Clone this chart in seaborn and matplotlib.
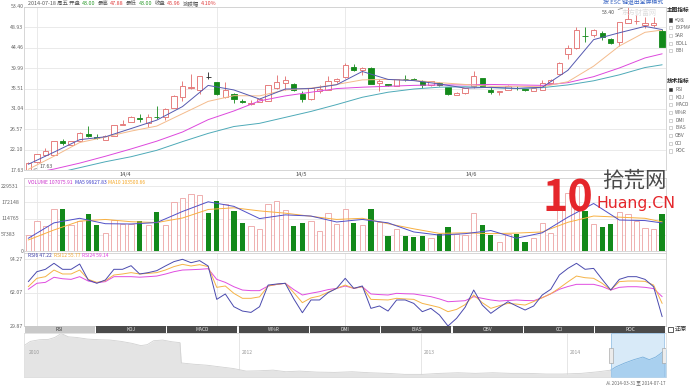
import numpy as np
import pandas as pd
import matplotlib
matplotlib.use("Agg")
import matplotlib.pyplot as plt
import seaborn as sns
from matplotlib.patches import Rectangle
from matplotlib.transforms import blended_transform_factory

# daily candles, 2014-03-31 .. 2014-07-18
open_ = [17.63, 19.54, 20.87, 21.05, 23.97, 23.23, 23.97, 25.51, 24.85, 24.33,
         25.21, 27.58, 28.23, 29.05, 28.03, 29.34, 29.34, 31.32, 33.75, 35.53,
         35.09, 37.96, 36.93, 33.60, 34.27, 32.79, 32.06, 32.65, 32.87, 35.60,
         36.71, 36.56, 34.27, 33.16, 34.86, 35.24, 37.07, 38.03, 40.32, 39.58,
         40.10, 36.71, 36.48, 36.12, 37.65, 37.67, 37.07, 36.19, 36.71, 35.83,
         34.12, 34.49, 35.97, 37.76, 35.18, 34.85, 35.18, 35.66, 35.40, 35.03,
         35.18, 36.73, 38.72, 43.00, 44.30, 47.10, 47.20, 47.57, 46.24, 45.73,
         49.93, 50.25, 49.42, 49.42, 48.16]
high = [19.50, 21.30, 22.49, 24.10, 24.57, 24.10, 25.90, 27.28, 25.59, 25.30,
        27.60, 28.52, 29.40, 30.01, 30.01, 31.76, 31.32, 34.00, 37.22, 38.70,
        38.33, 39.09, 37.00, 36.85, 34.49, 33.24, 33.01, 33.53, 36.30, 38.55,
        38.18, 36.70, 34.86, 35.70, 36.19, 38.18, 37.81, 41.06, 40.91, 40.15,
        40.20, 37.67, 36.60, 37.70, 38.55, 37.80, 37.30, 37.20, 36.90, 35.90,
        34.80, 35.70, 39.36, 37.90, 35.77, 34.95, 36.20, 36.14, 35.50, 35.60,
        37.47, 37.50, 41.20, 45.00, 48.90, 49.05, 48.60, 48.00, 46.50, 50.10,
        53.40, 51.48, 51.04, 51.11, 48.50]
low = [17.63, 19.30, 20.65, 21.00, 23.16, 23.10, 23.80, 24.92, 24.48, 24.20,
       25.10, 27.43, 28.10, 28.16, 27.13, 28.90, 28.59, 31.20, 32.79, 35.38,
       34.27, 37.67, 34.20, 33.38, 32.42, 32.27, 31.91, 32.50, 32.80, 35.46,
       35.09, 35.00, 32.50, 33.10, 34.64, 35.09, 36.71, 37.81, 39.36, 38.55,
       36.40, 34.86, 36.10, 36.00, 37.07, 37.30, 35.60, 36.10, 36.00, 34.20,
       34.00, 34.40, 35.60, 35.80, 34.29, 34.07, 35.10, 35.18, 35.00, 34.95,
       35.10, 36.60, 38.60, 42.00, 44.10, 45.73, 46.70, 46.20, 45.20, 44.77,
       49.90, 49.56, 48.83, 49.05, 44.62]
close = [19.32, 21.16, 21.90, 23.97, 23.60, 23.97, 25.81, 25.07, 24.70, 25.21,
         27.50, 27.80, 29.34, 28.90, 29.27, 29.20, 30.95, 33.90, 35.97, 35.75,
         38.18, 37.96, 34.27, 35.24, 33.31, 32.65, 32.27, 33.24, 36.19, 36.93,
         37.30, 35.09, 33.16, 35.60, 35.38, 37.07, 37.67, 40.61, 39.51, 40.10,
         36.48, 37.07, 36.19, 37.59, 37.59, 37.44, 36.19, 37.07, 36.19, 34.34,
         34.64, 35.60, 38.18, 35.92, 34.66, 34.88, 36.14, 35.62, 35.11, 35.55,
         36.66, 37.40, 41.08, 44.40, 48.20, 47.00, 48.31, 46.69, 45.51, 50.01,
         50.67, 50.30, 49.93, 49.78, 44.62]
volume = [57400, 106600, 89000, 147500, 147500, 92500, 105000, 130000, 92500, 63000,
          110000, 95000, 95000, 108000, 92500, 139000, 92500, 172000, 186000, 201000,
          197000, 136000, 177000, 166000, 143000, 98000, 89000, 77000, 165000, 176000,
          145000, 90000, 98000, 106600, 71000, 133500, 96000, 147500, 98000, 91000,
          147500, 102000, 54000, 80000, 54000, 51500, 54000, 47000, 62000, 84000,
          61000, 57000, 133500, 94000, 57000, 33000, 60000, 60000, 33000, 48000,
          101000, 66000, 160000, 205000, 229531, 143000, 95000, 87000, 95000, 137000,
          131000, 108000, 81000, 77000, 130000]

# moving averages every third day
ma_days = list(range(0, 73, 3)) + [74]
ma5 = [18.95, 21.6, 24.33, 24.95, 26.76, 28.6, 31.56, 36.19, 35.2, 33.2, 35.4, 35.5, 36.34,
       39.24, 37.5, 37.24, 36.51, 35.6, 35.77, 35.55, 35.77, 39.5, 46.2, 47.7, 49.1, 48.4]
ma10 = [17.84, 20.7, 23.7, 24.9, 26.2, 27.3, 30.0, 32.7, 33.95, 33.9, 35.2, 35.6, 36.4,
        37.4, 37.5, 37.3, 36.8, 36.4, 36.0, 36.0, 35.9, 37.0, 40.4, 44.8, 47.8, 48.3]
ma20 = [16.8, 17.9, 19.2, 20.7, 22.3, 24.0, 26.0, 28.7, 30.6, 32.8, 33.9, 34.7, 35.5,
        35.8, 36.0, 36.2, 36.3, 36.3, 36.4, 36.3, 36.2, 36.8, 38.1, 40.0, 42.2, 43.1]
ma30 = [15.8, 16.9, 18.2, 19.5, 20.6, 22.0, 23.9, 25.7, 27.2, 27.9, 29.2, 30.5, 32.0,
        33.6, 34.7, 35.4, 35.8, 35.9, 35.7, 35.5, 35.7, 36.3, 37.2, 38.5, 40.1, 40.7]
vol_ma5 = [45700, 100000, 116000, 97000, 96000, 101000, 140000, 174000, 158000, 115000,
           128000, 124000, 103000, 112000, 100000, 68000, 57000, 62000, 73000, 46000,
           65000, 120000, 168000, 110000, 108000, 99600]
vol_ma10 = [39800, 75000, 106000, 112000, 104000, 101000, 117000, 147000, 153000, 142000,
            134000, 123000, 112000, 116000, 97000, 79000, 63000, 65000, 62000, 64000,
            68000, 102000, 124000, 120000, 116000, 103500]

rsi6 = [72.7, 82.3, 84.6, 90.4, 84.6, 84.6, 89.7, 74.3, 71.1, 74.3,
        84.6, 84.6, 88.1, 80.1, 81.4, 83.3, 87.8, 92.0, 94.27, 91.0,
        93.0, 87.8, 55.6, 60.8, 48.5, 44.3, 43.0, 48.5, 69.4, 70.4,
        71.1, 56.0, 42.7, 55.0, 55.0, 62.0, 66.2, 75.9, 66.2, 68.5,
        46.9, 49.2, 44.3, 55.0, 55.0, 51.7, 43.7, 46.9, 40.5, 29.87,
        37.3, 48.0, 64.6, 50.1, 42.1, 48.0, 53.3, 49.2, 45.3, 49.2,
        59.8, 65.3, 79.1, 85.5, 90.4, 84.6, 85.5, 74.9, 64.6, 74.9,
        77.5, 77.5, 74.9, 67.8, 38.9]
rsi12 = [67.8, 75.9, 77.5, 83.9, 80.1, 80.1, 83.9, 74.9, 72.0, 73.6,
         79.1, 80.1, 81.4, 80.1, 80.7, 81.4, 83.9, 87.2, 89.4, 87.8,
         89.1, 87.2, 67.2, 68.5, 61.4, 56.6, 56.6, 58.0, 68.5, 70.0,
         71.1, 62.0, 52.4, 57.0, 58.8, 62.5, 66.2, 69.4, 66.2, 67.8,
         55.6, 55.3, 55.0, 56.6, 56.0, 55.6, 51.7, 49.8, 47.8, 43.7,
         45.9, 50.5, 59.8, 52.4, 46.9, 49.5, 51.7, 51.0, 50.1, 53.5,
         57.2, 61.0, 66.5, 72.5, 78.1, 76.5, 75.9, 71.1, 64.6, 72.7,
         73.3, 73.3, 73.0, 69.4, 51.7]
rsi24 = [65.3, 71.1, 72.0, 76.9, 75.5, 74.9, 77.5, 73.3, 71.7, 72.7,
         77.5, 77.5, 77.5, 77.0, 77.5, 78.1, 80.0, 82.3, 83.9, 84.2,
         84.6, 85.2, 74.9, 72.0, 67.8, 64.6, 64.0, 64.0, 68.5, 70.0,
         71.1, 65.0, 59.8, 61.5, 63.0, 65.0, 66.2, 68.5, 66.2, 67.8,
         60.8, 60.2, 59.8, 61.4, 61.0, 60.8, 59.5, 58.2, 56.0, 53.3,
         53.8, 54.3, 58.2, 56.6, 55.0, 54.0, 54.5, 55.0, 54.5, 54.3,
         57.2, 61.0, 65.3, 68.0, 70.1, 70.1, 70.1, 68.0, 64.6, 67.2,
         67.8, 67.8, 67.2, 66.0, 58.2]

# long history shown in the navigator (percent of span, percent of height)
nav_pos = [0.0, 1.0, 2.4, 3.8, 4.8, 5.8, 6.9, 8.2, 9.9, 11.7, 13.4, 15.1, 16.8, 18.2,
           19.2, 20.2, 21.6, 23.0, 24.3, 24.5, 26.4, 28.5, 30.5, 32.6, 34.6, 36.7, 38.8,
           40.8, 42.9, 45.6, 48.4, 51.1, 53.8, 56.6, 59.3, 62.1, 64.8, 67.6, 70.3, 73.0,
           75.8, 78.5, 81.3, 84.0, 86.8, 89.5, 91.4, 92.2, 93.6, 95.0, 96.4, 97.4, 98.4,
           99.1, 100.0]
nav_level = [72.4, 82.1, 85.8, 86.6, 91.0, 100, 92.5, 91.0, 87.3, 85.8, 85.1, 82.1, 77.6,
             72.4, 74.6, 83.6, 85.1, 81.3, 79.1, 32.8, 29.9, 27.6, 23.9, 20.1, 14.2, 14.9,
             16.4, 12.7, 14.2, 11.9, 11.2, 12.7, 10.4, 9.0, 6.7, 6.7, 9.0, 10.4, 9.0, 10.4,
             9.0, 9.0, 7.5, 7.5, 9.0, 12.7, 16.4, 23.9, 32.8, 40.3, 46.3, 40.3, 46.3, 53.7,
             64.9]
sel_start = 91.4
year_labels = ["2010", "2012", "2013", "2014"]
year_pos = [0.3, 33.5, 61.9, 84.6]

price_ticks = [17.63, 22.10, 26.57, 31.04, 35.51, 39.99, 44.46, 48.93, 53.40]
vol_ticks = [0, 57383, 114765, 172148, 229531]
rsi_ticks = [29.87, 62.07, 94.27]
month_labels = ["14/4", "14/5", "14/6"]
month_label_pos = [11.3, 31.9, 51.7]
month_lines = [1, 22, 37]
tab_names = ["RSI", "KDJ", "MACD", "W%R", "DMI", "BIAS", "OBV", "CCI", "ROC"]
main_ind = ["均线", "EXPMA", "SAR", "BOLL", "BBI"]
tech_ind = ["RSI", "KDJ", "MACD", "W%R", "DMI", "BIAS", "OBV", "CCI", "ROC"]

W, H = 690, 387
RED = "#e26a6a"
PINK = "#eda2a2"
GREEN = "#13891a"
GRID = "#e7e7e7"
FRAME = "#d0d0d0"
LABEL = "#666666"
LOGO_RED = "#e5262b"


def box(x0, y0, x1, y1):
    return [x0 / W, 1 - y1 / H, (x1 - x0) / W, (y1 - y0) / H]


def fx(x):
    return x / W


def fy(y):
    return 1 - y / H


sns.set_style("white")
plt.rcParams["font.family"] = ["Noto Sans CJK SC", "DejaVu Sans"]

fig = plt.figure(figsize=(6.9, 3.87), dpi=100)

days = np.arange(len(close))
o, hi, lo, c = map(np.array, (open_, high, low, close))
vol = np.array(volume)
up = c > o
dn = ~up
body_lo = np.minimum(o, c)
body_hi = np.maximum(o, c)
body_h = np.maximum(body_hi - body_lo, 0.07)
cols = np.where(up, RED, np.where(c == o, "#222222", GREEN))


def frame(ax):
    ax.set_xlim(-0.5, 74.45)
    ax.set_xticks([])
    ax.set_yticks([])
    for s in ax.spines.values():
        s.set_color(FRAME)
        s.set_linewidth(0.6)
    for m in month_lines:
        ax.axvline(m, color=GRID, lw=0.6, zorder=0)


def ylabels(ax, ticks, labels, long_left=False):
    tr = blended_transform_factory(fig.transFigure, ax.transData)
    for t, s in zip(ticks, labels):
        ax.axhline(t, color=GRID, lw=0.6, zorder=0)
        if long_left and len(s) > 4:
            ax.text(fx(1), t, s, transform=tr, ha="left", va="center", fontsize=3.8, color=LABEL)
        else:
            ax.text(fx(23.5), t, s, transform=tr, ha="right", va="center", fontsize=3.8, color=LABEL)


def chain(ax, x, y, parts, size, gap=1.5):
    prev = fig.text(fx(x), fy(y), parts[0][0], color=parts[0][1], fontsize=size, va="center")
    for s, col in parts[1:]:
        prev = ax.annotate(s, xy=(1, 0.5), xycoords=prev, xytext=(gap, 0),
                           textcoords="offset points", va="center", ha="left",
                           fontsize=size, color=col, annotation_clip=False)


# ---- price panel
ax = fig.add_axes(box(24, 6.7, 666, 170.3))
frame(ax)
ax.set_ylim(17.63, 53.40)
ylabels(ax, price_ticks, [f"{v:.2f}" for v in price_ticks])
ax.vlines(days, lo, body_lo, colors=cols, lw=0.6, zorder=2)
ax.vlines(days, body_hi, hi, colors=cols, lw=0.6, zorder=2)
ax.bar(days[up], body_h[up], bottom=body_lo[up], width=0.62, facecolor="white",
       edgecolor=RED, lw=0.6, zorder=3)
ax.bar(days[dn], body_h[dn], bottom=body_lo[dn], width=0.62, color=list(cols[dn]),
       edgecolor=list(cols[dn]), lw=0.6, zorder=3)
for vals, col in ((ma30, "#4eaab8"), (ma20, "#dd48dd"), (ma10, "#f4bb8c"), (ma5, "#5559b0")):
    sns.lineplot(x=ma_days, y=vals, ax=ax, color=col, linewidth=0.7, zorder=4)
ax.set_xlabel("")
ax.set_ylabel("")

imin, imax = int(np.argmin(lo)), int(np.argmax(hi))
ax.annotate(f"{lo[imin]:.2f}", xy=(imin, lo[imin]), xytext=(8.4, 2.6), textcoords="offset points",
            fontsize=3.8, color="#555", va="center", ha="left",
            arrowprops=dict(arrowstyle="-", color="#777", lw=0.5, shrinkA=0, shrinkB=4))
ax.annotate(f"{hi[imax]:.2f}", xy=(imax, hi[imax]), xytext=(-9.4, -4), textcoords="offset points",
            fontsize=3.8, color="#555", va="center", ha="right",
            arrowprops=dict(arrowstyle="-", color="#777", lw=0.5, shrinkA=0, shrinkB=4))

tr = blended_transform_factory(ax.transData, fig.transFigure)
for pos, s in zip(month_label_pos, month_labels):
    ax.text(pos, fy(174.5), s, transform=tr, ha="center", va="center", fontsize=4, color="#444")

chain(ax, 28, 3.6, [("2014-07-18 周五 开盘", "#555555"), ("43.00", "#2a9a2a"),
                    ("最高", "#555555"), ("47.88", "#e03c3c"), ("最低", "#555555"),
                    ("43.00", "#2a9a2a"), ("收盘", "#555555"), ("45.96", "#e03c3c"),
                    ("涨跌幅", "#555555"), ("4.10%", "#e03c3c")], 3.9)

# ---- volume panel
axv = fig.add_axes(box(24, 178, 666, 251.3))
frame(axv)
axv.set_ylim(0, vol_ticks[-1] * (251.3 - 178) / (251.3 - 186))
ylabels(axv, vol_ticks, [str(v) for v in vol_ticks], long_left=True)
axv.bar(days[up], vol[up], width=0.62, facecolor="white", edgecolor=PINK, lw=0.6, zorder=2)
axv.bar(days[dn], vol[dn], width=0.62, color=GREEN, lw=0, zorder=2)
sns.lineplot(x=ma_days, y=vol_ma10, ax=axv, color="#f8b040", linewidth=0.7, zorder=3)
sns.lineplot(x=ma_days, y=vol_ma5, ax=axv, color="#5050c8", linewidth=0.7, zorder=3)
axv.set_xlabel("")
axv.set_ylabel("")
chain(axv, 28, 182.7, [("VOLUME 107075.91", "#cc33cc"), ("MA5 99627.83", "#3c3cc8"),
                       ("MA10 103500.66", "#f5a623")], 3.6)

# ---- RSI panel
axr = fig.add_axes(box(24, 252.5, 666, 326))
frame(axr)
axr.set_ylim(29.87, 94.27 + (259.3 - 252.5) * (94.27 - 29.87) / (326 - 259.3))
ylabels(axr, rsi_ticks, [f"{v:.2f}" for v in rsi_ticks])
rsi_df = pd.DataFrame({
    "day": np.tile(days, 3),
    "value": rsi24 + rsi12 + rsi6,
    "line": ["RSI24"] * len(days) + ["RSI12"] * len(days) + ["RSI6"] * len(days),
})
sns.lineplot(data=rsi_df, x="day", y="value", hue="line", ax=axr, linewidth=0.7,
             palette={"RSI6": "#4a4aae", "RSI12": "#f5b347", "RSI24": "#e04ce0"},
             legend=False, zorder=3)
axr.set_xlabel("")
axr.set_ylabel("")
chain(axr, 28, 255.2, [("RSI6 47.22", "#3a3aa8"), ("RSI12 55.77", "#f3a52f"),
                       ("RSI24 59.14", "#e23de2")], 3.5)

# ---- indicator tabs
axt = fig.add_axes(box(24, 325.5, 666, 333.3))
axt.set_xlim(0, len(tab_names))
axt.set_ylim(0, 1)
axt.axis("off")
for i, name in enumerate(tab_names):
    fc = "#c9c9c9" if i == 0 else "#4b4b4b"
    axt.add_patch(Rectangle((i + 0.008, 0), 0.984, 1, facecolor=fc, lw=0))
    axt.text(i + 0.5, 0.45, name, ha="center", va="center", fontsize=3.5,
             color="#333333" if i == 0 else "#e6e6e6")

# ---- navigator
axn = fig.add_axes(box(24, 333.3, 666, 377.3))
axn.set_xlim(0, 100)
axn.set_ylim(0, 100.5)
axn.set_xticks([])
axn.set_yticks([])
for s in axn.spines.values():
    s.set_color("#dedede")
    s.set_linewidth(0.6)
for p, s in zip(year_pos, year_labels):
    if p > 1:
        axn.axvline(p, color="#e2e2e2", lw=0.6, zorder=0)
    axn.text(p + 0.4, 57, s, fontsize=3.6, color="#9a9a9a", va="center", ha="left", zorder=1)
axn.fill_between(nav_pos, nav_level, color="#e4e4e4", lw=0, zorder=0.5)
sns.lineplot(x=nav_pos, y=nav_level, ax=axn, color="#d2d2d2", linewidth=0.6, zorder=1)
npos = np.array(nav_pos)
nlev = np.array(nav_level)
sel = npos >= sel_start
axn.axvspan(sel_start, 99.7, color="#d8eaf8", lw=0, zorder=2)
axn.fill_between(npos[sel], nlev[sel], color="#a9d0ef", lw=0, zorder=3)
axn.plot(npos[sel], nlev[sel], color="#79b0dc", lw=0.6, zorder=4)
axn.add_patch(Rectangle((sel_start, 0), 99.7 - sel_start, 100.5, fill=False,
                        edgecolor="#9cc4e6", lw=0.6, zorder=5))
for hx in (sel_start, 99.7):
    axn.add_patch(Rectangle((hx - 0.35, 33), 0.7, 34, facecolor="#ececec",
                            edgecolor="#9a9a9a", lw=0.4, zorder=6))
axn.set_xlabel("")
axn.set_ylabel("")

fig.text(fx(665), fy(382.5), "从 2014-03-31 至 2014-07-17", fontsize=3.3, color="#666666",
         ha="right", va="center")

# ---- right-hand option column
fig.text(fx(666.8), fy(10), "主图指标", fontsize=4.1, color="#222222", va="center",
         fontweight="bold")
for i, name in enumerate(main_ind):
    y = 20 + 7.7 * i
    fig.add_artist(Rectangle((fx(668.5), fy(y + 1.6)), 3.2 / W, 3.2 / H,
                             transform=fig.transFigure, lw=0.4,
                             facecolor="#333333" if i == 0 else "white",
                             edgecolor="#333333" if i == 0 else "#b0b0b0"))
    fig.text(fx(675), fy(y), name, fontsize=3.5, color="#666666", va="center")
fig.text(fx(666.8), fy(81), "技术指标", fontsize=4.1, color="#222222", va="center",
         fontweight="bold")
for i, name in enumerate(tech_ind):
    y = 89.3 + 7.7 * i
    fig.add_artist(Rectangle((fx(668.5), fy(y + 1.6)), 3.2 / W, 3.2 / H,
                             transform=fig.transFigure, lw=0.4,
                             facecolor="#333333" if i == 0 else "white",
                             edgecolor="#333333" if i == 0 else "#b0b0b0"))
    fig.text(fx(675), fy(y), name, fontsize=3.5, color="#666666", va="center")
fig.add_artist(Rectangle((fx(668), fy(332)), 5 / W, 5.5 / H, transform=fig.transFigure,
                         facecolor="white", edgecolor="#444444", lw=0.6))
fig.text(fx(674.5), fy(329.2), "还原", fontsize=4.4, color="#333333", va="center")

fig.text(fx(603), fy(2.6), "按 ESC 键退出全屏模式", fontsize=4.2, color="#3a66c4", va="center")
fig.text(fx(622), fy(12.5), "东方财富网", fontsize=5, color="#dedede", va="center")

# ---- watermark
fig.text(fx(543), fy(212), "10", fontsize=31, weight="bold", style="italic",
         color=LOGO_RED, va="baseline")
fig.text(fx(602), fy(181), "拾荒网", fontsize=15.5, color="#4a4a4a", va="center")
fig.text(fx(596), fy(208.5), "Huang.CN", fontsize=11.3, family="DejaVu Sans",
         color=LOGO_RED, va="baseline")

fig.savefig("out.png", dpi=100)
